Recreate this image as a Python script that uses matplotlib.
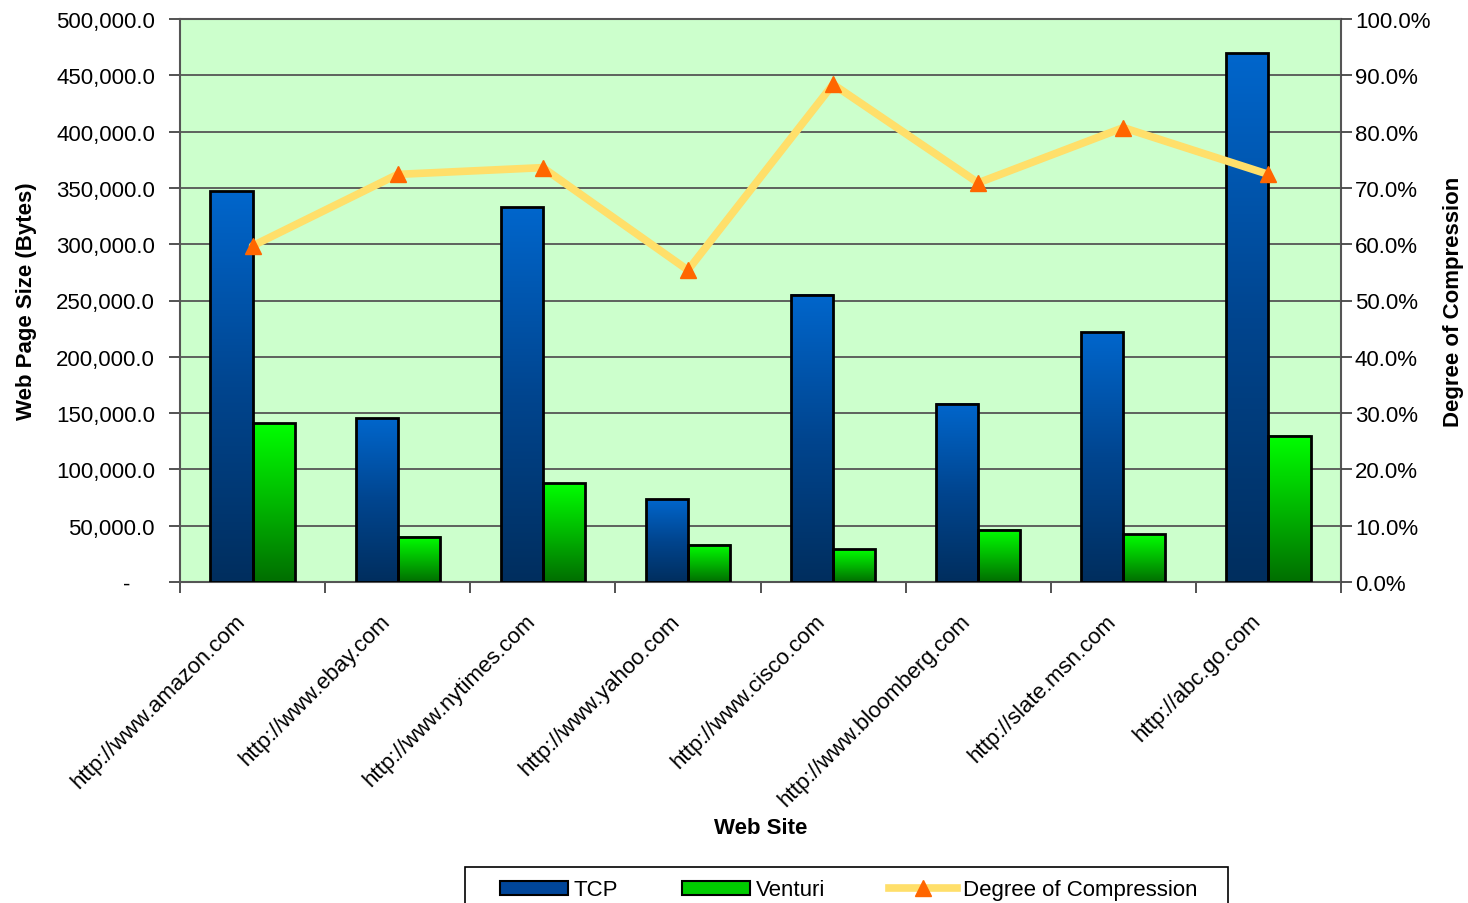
import numpy as np
import matplotlib
matplotlib.use("Agg")
import matplotlib.pyplot as plt
from matplotlib.colors import LinearSegmentedColormap
from matplotlib.ticker import FuncFormatter, MultipleLocator
from matplotlib.patches import Patch, Rectangle
from matplotlib.lines import Line2D
from matplotlib.transforms import ScaledTranslation

plt.rcParams['font.family'] = ['Liberation Sans', 'DejaVu Sans']

sites = ["http://www.amazon.com", "http://www.ebay.com", "http://www.nytimes.com",
         "http://www.yahoo.com", "http://www.cisco.com", "http://www.bloomberg.com",
         "http://slate.msn.com", "http://abc.go.com"]
tcp = [347200, 145600, 333000, 73700, 254900, 158100, 222000, 469800]
venturi = [141200, 40000, 87900, 32900, 29300, 46200, 42600, 129700]
compression = [59.7, 72.4, 73.6, 55.4, 88.4, 70.9, 80.7, 72.4]

W, H = 1468, 904
fig = plt.figure(figsize=(W / 100, H / 100), dpi=100)
fig.patch.set_facecolor('white')
ax = fig.add_axes([180/W, 1-583/H, (1341-180)/W, (583-20)/H])
ax.set_facecolor('#CCFFCC')

n = len(sites)
x = np.arange(n)
bw = 0.29
fs = 16

bars_t = ax.bar(x - bw/2, tcp, width=bw, facecolor='none', edgecolor='black', linewidth=2, zorder=4)
bars_v = ax.bar(x + bw/2, venturi, width=bw, facecolor='none', edgecolor='black', linewidth=2, zorder=4)

cm_blue = LinearSegmentedColormap.from_list('b', ['#002E5E', '#00458F', '#0066CC'])
cm_green = LinearSegmentedColormap.from_list('g', ['#006E00', '#00B800', '#00FF00'])
grad = np.linspace(0, 1, 256).reshape(-1, 1)
for bars, cm in ((bars_t, cm_blue), (bars_v, cm_green)):
    for b in bars:
        x0, w, h = b.get_x(), b.get_width(), b.get_height()
        ax.imshow(grad, cmap=cm, origin='lower', aspect='auto',
                  extent=(x0, x0 + w, 0, h), zorder=3, interpolation='bilinear')

ax.set_xlim(-0.5, n - 0.5)
ax.set_ylim(0, 500000)
ax.yaxis.set_major_locator(MultipleLocator(50000))
ax.yaxis.set_major_formatter(FuncFormatter(lambda v, p: '-' if v == 0 else f'{v:,.1f}'))
ax.grid(axis='y', color='#555555', linewidth=1.3, zorder=1)
ax.set_axisbelow(True)

ax.set_xticks(x)
ax.set_xticklabels(sites, rotation=45, ha='right', va='top', rotation_mode='anchor', fontsize=fs)
ax.tick_params(axis='x', length=0, pad=10)
ax.set_xticks(np.arange(n + 1) - 0.5, minor=True)
ax.tick_params(axis='x', which='minor', length=8, width=1.3, color='#444444', direction='out')
ax.tick_params(axis='y', labelsize=fs, length=8, width=1.3, color='#444444', direction='out', pad=10)

for s in ax.spines.values():
    s.set_color('#555555')
    s.set_linewidth(1.5)

ax.set_ylabel('Web Page Size (Bytes)', fontsize=fs, fontweight='bold')
ax.yaxis.set_label_coords(-(180 - 27) / (1341 - 180), 0.5)
ax.set_xlabel('Web Site', fontsize=fs, fontweight='bold')
ax.xaxis.set_label_coords(0.5, -(829 - 583) / (583 - 20))
ax.xaxis.label.set_va('center')

ax2 = ax.twinx()
ax2.set_ylim(0, 100)
ax2.yaxis.set_major_locator(MultipleLocator(10))
ax2.yaxis.set_major_formatter(FuncFormatter(lambda v, p: f'{v:.1f}%'))
ax2.tick_params(axis='y', labelsize=fs, length=8, width=1.3, color='#444444', direction='out', pad=2)
for s in ax2.spines.values():
    s.set_visible(False)
line_col = '#FFDF6A'
ax2.plot(x, compression, color=line_col, linewidth=5.5, zorder=5, solid_capstyle='round')
ax2.plot(x, compression, linestyle='none', marker='^', markersize=11, color='#FF6600', zorder=6)
ax2.set_ylabel('Degree of Compression', fontsize=fs, fontweight='bold')
ax2.yaxis.set_label_coords(1 + (1453 - 1341) / (1341 - 180), 0.5)
ax2.yaxis.label.set_va('center')
ax.yaxis.label.set_va('center')

# shift tick labels to match reference placement
fig.canvas.draw()
off = ScaledTranslation(-18/100, -14/100, fig.dpi_scale_trans)
for lbl in ax.get_xticklabels():
    lbl.set_transform(lbl.get_transform() + off)
for lbl in ax.get_yticklabels():
    if lbl.get_text() == '-':
        lbl.set_transform(lbl.get_transform() + ScaledTranslation(-25/100, 0, fig.dpi_scale_trans))

# legend frame (cut off at bottom like the reference)
fig.patches.append(Rectangle((465/W, -0.05), (1228-465)/W, 0.05 + (904-868)/H,
                             transform=fig.transFigure, facecolor='white',
                             edgecolor='black', linewidth=1.2, zorder=1))
handles = [Patch(facecolor='#00469A', edgecolor='black', linewidth=1.5, label='TCP'),
           Patch(facecolor='#00CC00', edgecolor='black', linewidth=1.5, label='Venturi'),
           Line2D([], [], color=line_col, linewidth=5.5, marker='^', markersize=11,
                  markerfacecolor='#FF6600', markeredgecolor='#FF6600', label='Degree of Compression')]
leg = fig.legend(handles=handles, loc='center left', bbox_to_anchor=(500/W, 1-891/H),
                 ncol=3, fontsize=fs, frameon=False,
                 handlelength=3.05, handleheight=0.6, handletextpad=0.25, columnspacing=2.9,
                 borderpad=0, borderaxespad=0)

fig.savefig('out.png', dpi=100, facecolor='white')
